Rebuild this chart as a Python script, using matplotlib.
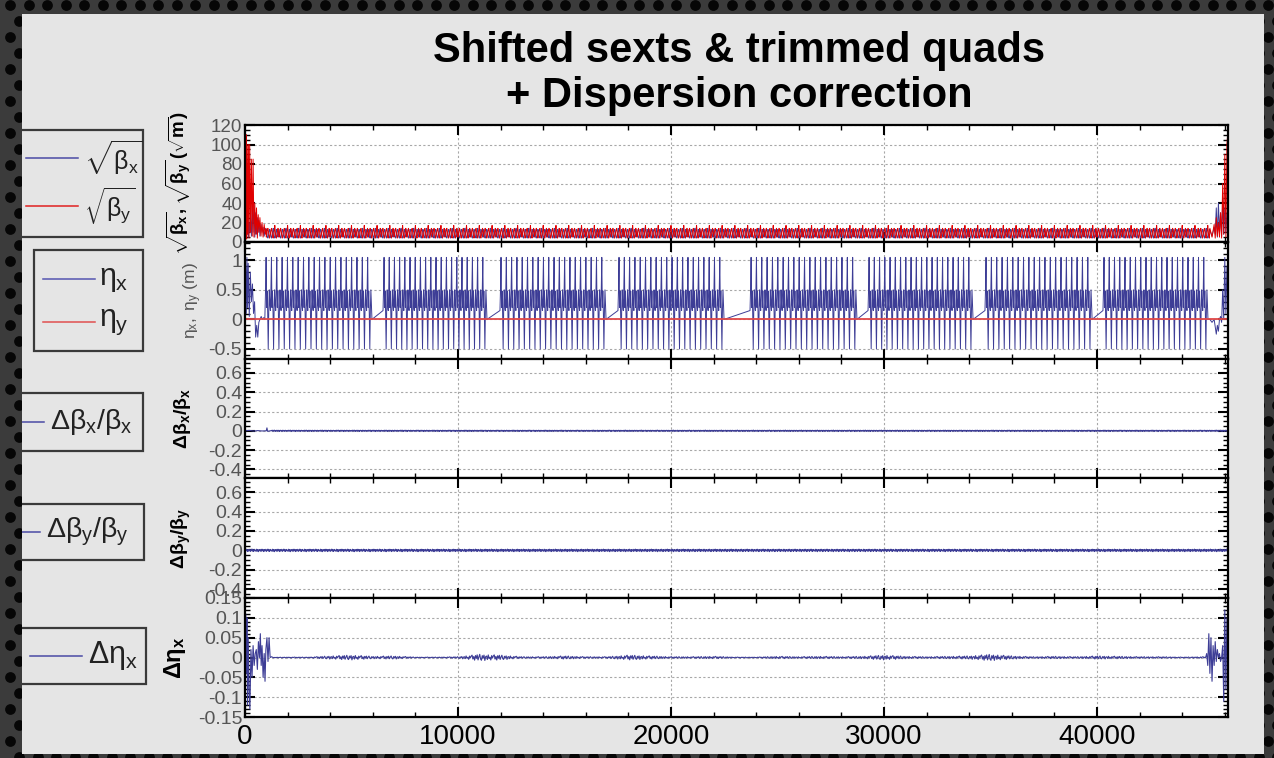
import numpy as np
import matplotlib.pyplot as plt
from matplotlib.patches import Rectangle, PathPatch
from matplotlib.path import Path
from matplotlib.ticker import MultipleLocator

plt.rcParams['font.family'] = ['Liberation Sans', 'DejaVu Sans']
plt.rcParams['mathtext.fontset'] = 'custom'
plt.rcParams['mathtext.rm'] = 'Liberation Sans'
plt.rcParams['mathtext.it'] = 'Liberation Sans'
plt.rcParams['mathtext.bf'] = 'Liberation Sans:bold'

# ---- ring layout (m) ----
circumference = 46150.0
arc_start = [940, 6480, 11970, 17510, 23710, 29250, 34740, 40280]
arc_end = [5960, 11360, 16950, 22490, 28730, 34180, 39770, 45210]
cells_per_arc = 20

# horizontal dispersion over one arc cell (m)
eta_cell = [0.15, 0.50, 1.05, 0.20, 0.48, 0.10, -0.50, 0.15, 0.50, 0.25]

# dispersion through the interaction regions
eta_ir0_s = [0, 30, 60, 90, 120, 150, 200, 250, 300, 350, 400, 450, 500, 550, 600,
             650, 700, 760, 820, 880, 930]
eta_ir0 = [0.3, 0.9, 0.1, 1.05, 0.2, 0.95, 0.05, 0.8, 0.3, 0.6, 0.1, 0.3, -0.3, -0.1,
           -0.3, -0.05, 0.0, 0.05, 0.0, 0.03, 0.0]
eta_ir1_s = [45300, 45400, 45500, 45600, 45650, 45700, 45750, 45800, 45850, 45900,
             45950, 46000, 46050, 46100, 46150]
eta_ir1 = [0.0, -0.05, 0.0, -0.25, -0.1, -0.2, 0.0, 0.05, -0.05, 0.5, 0.0, 1.05, 0.1,
           0.9, 0.4]
eta_y_s = [0.0, circumference]
eta_y = [0.0, 0.0]

# sqrt(beta) through the arcs, one 600 m stretch (sqrt(m))
sqrt_bx_cell = [13, 9, 5, 4, 6, 10, 13, 12, 8, 5, 4, 7, 11, 14, 10, 6, 4, 5, 9, 13, 12, 7, 5, 8]
sqrt_by_cell = [5, 8, 12, 14, 11, 7, 4, 6, 10, 13, 14, 9, 5, 4, 8, 12, 17, 10, 6, 4, 7, 11, 14, 9]

# sqrt(beta) at the interaction regions
sqrt_b_ir0_s = [0, 20, 40, 60, 80, 100, 130, 160, 190, 220, 260, 300, 340, 380, 420,
                460, 500, 540, 580, 620, 660, 700, 750, 800, 850, 900, 950, 990]
sqrt_bx_ir0 = [30, 10, 25, 5, 20, 8, 30, 5, 20, 10, 25, 6, 40, 10, 40, 5, 30, 8, 25, 10,
               22, 6, 18, 10, 15, 6, 14, 10]
sqrt_by_ir0 = [2, 115, 5, 110, 3, 100, 8, 100, 4, 100, 10, 85, 6, 85, 5, 40, 8, 35, 4,
               28, 10, 25, 6, 20, 5, 18, 8, 14]
sqrt_b_ir1_s = [45300, 45400, 45500, 45550, 45600, 45650, 45700, 45750, 45800, 45850,
                45900, 45950, 46000, 46050, 46100, 46150]
sqrt_bx_ir1 = [12, 6, 15, 8, 35, 5, 40, 10, 30, 6, 40, 8, 35, 10, 30, 20]
sqrt_by_ir1 = [14, 5, 18, 4, 25, 6, 20, 5, 30, 4, 60, 8, 90, 5, 100, 115]

# beta beating residuals
dbx_ir0_s = [0, 200, 400, 600, 800, 1000, 1030, 1060, 1200]
dbx_ir0 = [0.0, 0.004, -0.003, 0.002, -0.002, 0.0, 0.03, -0.005, 0.0]
dbx_wiggle = [0.004, -0.003, 0.006, -0.005, 0.002, 0.007, -0.004, 0.003, -0.006, 0.005,
              0.001, -0.004, 0.006, -0.002, 0.004, -0.007, 0.003, 0.005, -0.003, 0.002,
              -0.005, 0.006, -0.001, 0.004, -0.006, 0.003, 0.005, -0.004, 0.002, -0.003]
dby_wiggle = [0.010, -0.008, 0.012, -0.004, 0.006, -0.012, 0.009, -0.006, 0.003, 0.011,
              -0.010, 0.005, -0.003, 0.013, -0.007, 0.008, -0.011, 0.004, 0.010, -0.005,
              0.002, -0.009, 0.012, -0.006, 0.007, -0.013, 0.005, 0.009, -0.004, -0.008]

# dispersion residual
deta_ir0_s = [0, 30, 60, 90, 120, 150, 190, 230, 280, 330, 380, 430, 480, 530, 580, 630,
              680, 720, 760, 800, 850, 900, 940, 980, 1030, 1080, 1130, 1180, 1250]
deta_ir0 = [0.0, 0.11, -0.04, 0.1, -0.12, 0.05, -0.08, -0.13, 0.02, -0.05, 0.03, -0.02,
            0.01, 0.02, -0.03, 0.04, 0.0, 0.06, -0.02, 0.03, -0.05, 0.01, -0.06, 0.02,
            0.05, -0.01, 0.05, 0.0, 0.002]
deta_ir1_s = [45100, 45150, 45200, 45250, 45300, 45350, 45400, 45450, 45500, 45550,
              45600, 45650, 45700, 45750, 45800, 45850, 45900, 45950, 46000, 46050,
              46100, 46150]
deta_ir1 = [0.0, 0.01, -0.02, 0.06, -0.04, 0.05, -0.06, 0.03, -0.02, 0.04, -0.01, 0.02,
            0.0, 0.01, -0.01, 0.0, 0.03, -0.11, 0.12, -0.08, 0.1, 0.05]
deta_env_s = list(range(0, 47000, 1000))
deta_env = [0.0, 0.0, 0.001, 0.001, 0.004, 0.006, 0.003, 0.004, 0.001, 0.001, 0.002,
            0.008, 0.006, 0.002, 0.002, 0.004, 0.002, 0.002, 0.006, 0.004, 0.002, 0.002,
            0.003, 0.001, 0.001, 0.003, 0.002, 0.003, 0.002, 0.003, 0.006, 0.003, 0.002,
            0.003, 0.004, 0.008, 0.004, 0.002, 0.003, 0.002, 0.004, 0.003, 0.002, 0.002,
            0.001, 0.002, 0.0]
deta_wiggle = [1.0, -0.6, 0.4, -1.0, 0.7, -0.3, 0.9, -0.8, 0.2, 1.0, -0.5, -0.9, 0.6,
               -0.2, 0.8, -1.0, 0.3, 0.5, -0.7, 0.9, -0.4, 0.1, -0.9, 0.7, -0.2, 0.6]

xticks = [0, 10000, 20000, 30000, 40000]
yticks_sqrtb = [0, 20, 40, 60, 80, 100, 120]
yticks_eta = [-0.5, 0, 0.5, 1]
yticks_dbeta = [-0.4, -0.2, 0, 0.2, 0.4, 0.6]
yticks_deta = [-0.15, -0.1, -0.05, 0, 0.05, 0.1, 0.15]

BLUE = '#3d3d96'
RED = '#e00000'


def tiled(pattern, s0, s1, step):
    s = np.arange(s0, s1, step)
    return s, np.resize(np.asarray(pattern, float), s.size)


# eta_x: IR, then the arcs with zero dispersion straights between them
eta_s, eta_v = list(eta_ir0_s), list(eta_ir0)
for a0, a1 in zip(arc_start, arc_end):
    cell = (a1 - a0) / cells_per_arc
    for k in range(cells_per_arc):
        for j, v in enumerate(eta_cell):
            eta_s.append(a0 + cell * (k + j / len(eta_cell)))
            eta_v.append(v)
    eta_s.append(a1)
    eta_v.append(0.0)
eta_s += eta_ir1_s
eta_v += eta_ir1

s_band, bx_band = tiled(sqrt_bx_cell, 1000, 45300, 25)
_, by_band = tiled(sqrt_by_cell, 1000, 45300, 25)
sb_s = np.concatenate([sqrt_b_ir0_s, s_band, sqrt_b_ir1_s])
sbx = np.concatenate([sqrt_bx_ir0, bx_band, sqrt_bx_ir1])
sby = np.concatenate([sqrt_by_ir0, by_band, sqrt_by_ir1])

s_db, dbx_mid = tiled(dbx_wiggle, 1250, circumference, 25)
dbx_s = np.concatenate([dbx_ir0_s, s_db])
dbx = np.concatenate([dbx_ir0, dbx_mid])
dby_s, dby = tiled(dby_wiggle, 0, circumference, 25)

s_de, w = tiled(deta_wiggle, 1300, 45100, 40)
deta_mid = np.interp(s_de, deta_env_s, deta_env) * w
deta_s = np.concatenate([deta_ir0_s, s_de, deta_ir1_s])
deta = np.concatenate([deta_ir0, deta_mid, deta_ir1])

# ---- figure and backdrop ----
W, H = 1274, 758
fig = plt.figure(figsize=(W / 100, H / 100), dpi=100)
bg = fig.add_axes([0, 0, 1, 1], zorder=0)
bg.set_xlim(0, W)
bg.set_ylim(H, 0)
bg.axis('off')

panel = (22, 14, 1264, 754)
bg.add_patch(Rectangle((panel[0], panel[1]), panel[2] - panel[0], panel[3] - panel[1],
                       fc='#e5e5e5', ec='none', zorder=1))


def key_box(x0, y0, x1, y1, entries, size):
    bg.add_patch(Rectangle((x0, y0), x1 - x0, y1 - y0, fc='#e5e5e5', ec='#3a3a3a',
                           lw=1.6, zorder=2))
    for y, lx0, lx1, color, label, tx in entries:
        bg.plot([lx0, lx1], [y, y], color=color, lw=1.1, zorder=3)
        bg.text(tx, y, label, fontsize=size, color='#222222', va='center', ha='left',
                zorder=3)


key_box(14, 130, 143, 237, [(158, 26, 78, '#4a4aa5', r'$\sqrt{\beta_x}$', 84),
                            (206, 26, 78, '#e02020', r'$\sqrt{\beta_y}$', 84)], 18)
key_box(34, 250, 143, 351, [(279, 43, 95, '#5555b0', r'$\eta_x$', 99),
                            (322, 43, 95, '#e05050', r'$\eta_y$', 99)], 22)
key_box(14, 393, 143, 451, [(422, 14, 44, '#4a4aa5', r'$\Delta\beta_x/\beta_x$', 50)], 20.5)
key_box(14, 504, 144, 560, [(532, 14, 40, '#4a4aa5', r'$\Delta\beta_y/\beta_y$', 46)], 20.5)
key_box(14, 628, 146, 684, [(656, 30, 82, '#4a4aa5', r'$\Delta\eta_x$', 88)], 22)

# perforated metal frame around the panel
outer = [(0, 0), (W, 0), (W, H), (0, H), (0, 0)]
inner = [(panel[0], panel[1]), (panel[0], panel[3]), (panel[2], panel[3]),
         (panel[2], panel[1]), (panel[0], panel[1])]
codes = [Path.MOVETO] + [Path.LINETO] * 3 + [Path.CLOSEPOLY]
frame = PathPatch(Path(outer + inner, codes + codes), fc='#3b3b3b', ec='none', zorder=5)
bg.add_patch(frame)
hx, hy = [], []
for j, yy in enumerate(np.arange(5, H + 20, 16)):
    for xx in np.arange(10 + (j % 2) * 9.25, W + 20, 18.5):
        hx.append(xx)
        hy.append(yy)
holes = bg.scatter(hx, hy, s=60, c='#060606', lw=0, zorder=6)
holes.set_clip_path(frame)

# ---- stacked panels ----
bounds = [125, 242, 359, 478, 598, 717]
left, right = 245 / W, 1228 / W
axes = []
for i in range(5):
    top, bot = bounds[i], bounds[i + 1]
    ax = fig.add_axes([left, 1 - bot / H, right - left, (bot - top) / H], zorder=2)
    ax.set_facecolor('white')
    ax.set_xlim(0, circumference)
    ax.set_xticks(xticks)
    ax.xaxis.set_minor_locator(MultipleLocator(2000))
    ax.tick_params(which='both', direction='in', top=True, right=True, color='black')
    ax.tick_params(which='major', length=7, width=1.5)
    ax.tick_params(which='minor', length=3.5, width=1.0)
    ax.tick_params(axis='y', labelcolor='#555555', labelsize=14, pad=2)
    ax.grid(True, which='major', ls=(0, (2, 2)), color='#a8a8a8', lw=0.8)
    for sp in ax.spines.values():
        sp.set_linewidth(1.6)
        sp.set_color('black')
    if i < 4:
        ax.tick_params(axis='x', labelbottom=False)
    axes.append(ax)

ax1, ax2, ax3, ax4, ax5 = axes

ax1.plot(sb_s, sbx, color=BLUE, lw=0.7)
ax1.plot(sb_s, sby, color=RED, lw=0.7)
ax1.set_ylim(0, 120)
ax1.set_yticks(yticks_sqrtb, labels=[f'{t:g}' for t in yticks_sqrtb])
ax1.tick_params(axis='y', labelsize=13.5)
ax1.yaxis.set_minor_locator(MultipleLocator(5))
ax1.set_ylabel(r'$\mathbf{\sqrt{\beta_x}, \sqrt{\beta_y}\,(\sqrt{m})}$', fontsize=13.5)
ax1.yaxis.set_label_coords(-0.053, 0.5)

ax2.plot(eta_s, eta_v, color=BLUE, lw=0.7)
ax2.plot(eta_y_s, eta_y, color='#e04848', lw=1.3)
ax2.set_ylim(-0.67, 1.31)
ax2.set_yticks(yticks_eta, labels=[f'{t:g}' for t in yticks_eta])
ax2.yaxis.set_minor_locator(MultipleLocator(0.1))
ax2.set_ylabel(r'$\eta_x,\ \eta_y$ (m)', fontsize=12.5, color='#555555')
ax2.yaxis.set_label_coords(-0.042, 0.5)

ax3.plot(dbx_s, dbx, color=BLUE, lw=0.8)
ax4.plot(dby_s, dby, color=BLUE, lw=0.8)
for ax, lab in ((ax3, r'$\mathbf{\Delta\beta_x/\beta_x}$'),
                (ax4, r'$\mathbf{\Delta\beta_y/\beta_y}$')):
    ax.set_ylim(-0.49, 0.745)
    ax.set_yticks(yticks_dbeta, labels=[f'{t:g}' for t in yticks_dbeta])
    ax.yaxis.set_minor_locator(MultipleLocator(0.05))
    ax.set_ylabel(lab, fontsize=14)
    ax.yaxis.set_label_coords(-0.053, 0.5)

ax5.plot(deta_s, deta, color=BLUE, lw=0.8)
ax5.set_ylim(-0.15, 0.15)
ax5.set_yticks(yticks_deta, labels=[f'{t:g}' for t in yticks_deta])
ax5.yaxis.set_minor_locator(MultipleLocator(0.01))
ax5.set_ylabel(r'$\mathbf{\Delta\eta_x}$', fontsize=17)
ax5.yaxis.set_label_coords(-0.058, 0.5)
ax5.set_xticks(xticks, labels=[f'{t:d}' for t in xticks])
ax5.tick_params(axis='x', labelsize=20, labelcolor='black', pad=5)

fig.text(739 / W, 1 - 51 / H, 'Shifted sexts & trimmed quads', ha='center', va='center',
         fontsize=30, fontweight='bold')
fig.text(739 / W, 1 - 96 / H, '+ Dispersion correction', ha='center', va='center',
         fontsize=30, fontweight='bold')

fig.savefig('out.png', dpi=100)
